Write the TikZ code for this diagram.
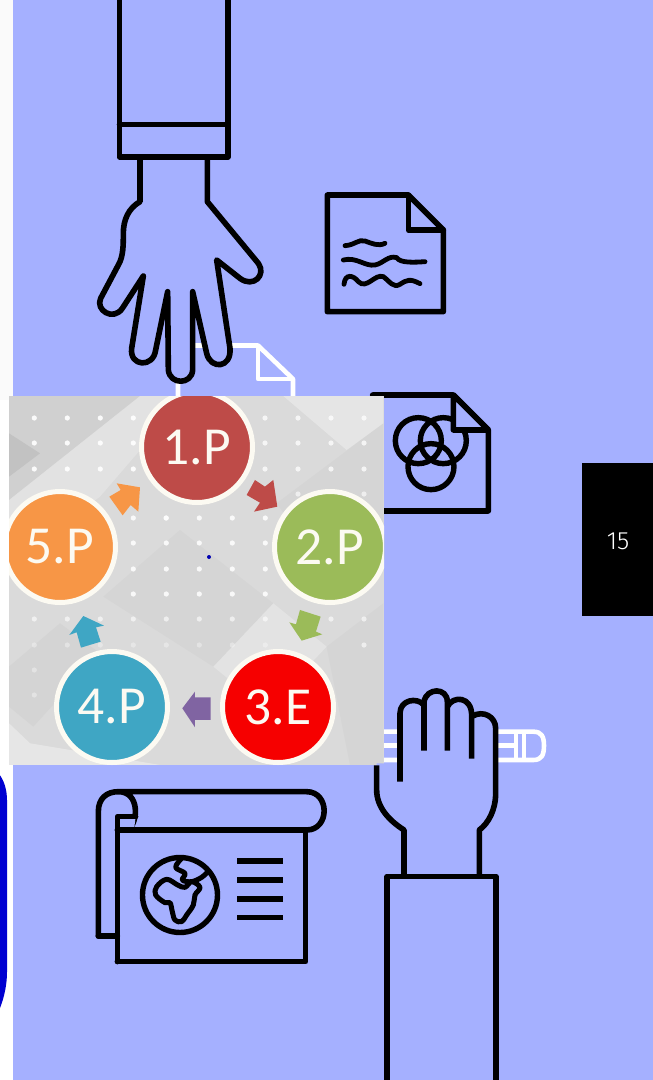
\documentclass[tikz,border=0pt]{standalone}
\usepackage{fontspec}
\setmainfont{Carlito}
\newfontfamily\numfont{Fira Sans Light}
\definecolor{lav}{HTML}{A5B0FF}
\definecolor{cRed}{HTML}{BE4B48}
\definecolor{cGreen}{HTML}{9BBB59}
\definecolor{cEx}{HTML}{F60000}
\definecolor{cBlue}{HTML}{3FA6C4}
\definecolor{cOrange}{HTML}{F79646}
\definecolor{cPurple}{HTML}{8064A2}
\definecolor{imgbg}{HTML}{DADADA}
\definecolor{ringc}{HTML}{FCFAF2}
\tikzset{
  icon/.style={draw=black,line width=5.6pt,line join=round,line cap=round},
  iconfill/.style={icon,fill=lav},
  ghost/.style={draw=white,line width=4.6pt,line join=round},
  scribble/.style={draw=black,line width=4.8pt,line cap=round},
  petal/.style={circle,draw=ringc,line width=5pt,minimum size=111pt,inner sep=0pt,text=ringc,font=\fontsize{53.5}{53.5}\selectfont},
}
\begin{document}
\begin{tikzpicture}[x=1pt,y=-1pt]
\useasboundingbox (0,0) rectangle (653,1080);
\fill[white] (0,0) rectangle (653,1080);
\fill[lav] (13,0) rectangle (653,1080);
\fill[black!2] (0,0) rectangle (13,400);
\fill[white] (0,765) rectangle (13,1080);
% blue shape at the left edge
\fill[blue!82!black] (-10,774) -- (-1,774) .. controls (4,780) and (7,790) .. (7,800) -- (7,972) .. controls (7,985) and (4,998) .. (0,1008) -- (-10,1008) -- cycle;
% black tab
\fill[black] (582,463) rectangle (653,616);
\node[font=\numfont\fontsize{25}{25}\selectfont,text=white] (pageno) at (618,541.5) {15};
% white document behind the upper hand
\draw[ghost] (178,400) -- (178,345.5) -- (258,345.5) -- (293,379) -- (293,400);
\draw[ghost] (258,345.5) -- (258,379) -- (293,379);
% upper hand
\begin{scope}[shift={(90,150)},x=0.3333pt,y=-0.3333pt]
\draw[iconfill] (150,0) -- (150,155)
  .. controls (115,175) and (100,210) .. (100,250)
  .. controls (100,285) and (100,320) .. (85,345)
  -- (32,445)
  .. controls (15,480) and (70,515) .. (97,475)
  -- (160,378) -- (125,595)
  .. controls (118,650) and (190,655) .. (197,600)
  -- (233,425) -- (235,660)
  .. controls (240,705) and (305,705) .. (308,660)
  -- (308,425) -- (350,610)
  .. controls (362,660) and (425,655) .. (420,595)
  -- (380,330) -- (450,385)
  .. controls (490,415) and (530,375) .. (505,340)
  -- (352,155) -- (352,0);
\end{scope}
\draw[iconfill] (119.5,-10) -- (119.5,157) -- (228,157) -- (228,-10);
\draw[icon] (119.5,124.5) -- (228,124.5);
% document with text
\begin{scope}[shift={(320,185)},x=0.3333pt,y=-0.3333pt]
\draw[icon] (22,30) -- (265,30) -- (370,135) -- (370,380) -- (22,380) -- cycle;
\draw[icon] (265,30) -- (265,135) -- (370,135);
\draw[scribble] (75,182) .. controls (105,180) and (115,162) .. (135,168) .. controls (155,175) and (175,185) .. (195,175);
\draw[scribble] (70,225) .. controls (110,215) and (135,245) .. (165,240) .. controls (190,235) and (205,210) .. (230,218) .. controls (240,235) and (285,232) .. (315,230);
\draw[scribble] (72,298) .. controls (75,265) and (100,270) .. (115,290) .. controls (140,315) and (165,265) .. (190,275) .. controls (210,290) and (220,310) .. (240,298) .. controls (260,285) and (270,280) .. (300,296);
\end{scope}
% document with circles
\begin{scope}[shift={(320,185)},x=0.3333pt,y=-0.3333pt]
\draw[icon] (158,630) -- (400,630) -- (505,735) -- (505,978) -- (150,978);
\draw[black,line width=5.4pt] (295,767) circle[radius=23pt] (370,767) circle[radius=23pt] (333,845) circle[radius=23pt];
\draw[iconfill] (400,630) -- (505,735) -- (400,735) -- cycle;
\end{scope}
% image
\begin{scope}
\clip (9,396) rectangle (384,765);
\fill[imgbg] (9,396) rectangle (384,765);
\begin{scope}[shift={(0,390)},x=0.3333pt,y=-0.3333pt]
\fill[black!22,opacity=.5] (27,18) -- (420,18) -- (27,330) -- cycle;
\fill[black!40,opacity=.25] (27,130) -- (120,190) -- (27,260) -- cycle;
\fill[white,opacity=.22] (27,330) -- (420,18) -- (560,18) -- (300,320) -- (27,520) -- cycle;
\fill[black!30,opacity=.12] (830,340) -- (1150,100) -- (1150,430) -- (990,560) -- cycle;
\fill[black!30,opacity=.12] (310,620) -- (540,420) -- (820,640) -- (640,830) -- cycle;
\fill[white,opacity=.25] (640,830) -- (820,640) -- (980,770) -- (800,960) -- cycle;
\fill[white,opacity=.3] (850,18) -- (1150,18) -- (1150,100) -- (1040,180) -- cycle;
\fill[black!30,opacity=.15] (27,830) -- (180,700) -- (300,790) -- (100,1010) -- (27,950) -- cycle;
\fill[white,opacity=.35] (27,1000) -- (90,1060) -- (480,1125) -- (27,1125) -- cycle;
\fill[black!30,opacity=.12] (980,770) -- (1150,640) -- (1150,1125) -- (1050,1125) -- cycle;
\end{scope}
\foreach \row/\xa/\xb/\op in {
  418/34/134/.9,443/34/134/.9,469/34/134/.9,
  518/133/265/.85,543/133/265/.85,569/133/265/.85,594/133/265/.85,
  619/34/265/.6,645/34/265/.35,670/34/34/.35,695/34/34/.35}{
  \foreach \dx in {0,...,10}{
    \pgfmathsetmacro{\px}{34.3+33*\dx}
    \pgfmathparse{(\px>=\xa-1 && \px<=\xb+1)?1:0}
    \ifnum\pgfmathresult>0
      \fill[white,opacity=\op] (\px,\row) circle[radius=2.6pt];
    \fi
  }
}
\foreach \row in {418,443,469}{\foreach \px in {265,298,331,364}{\fill[white,opacity=.75] (\px,\row) circle[radius=2.6pt];}}
\foreach \px/\row in {166/518,298/494,364/494,331/619,364/619,364/645}{\fill[white,opacity=.6] (\px,\row) circle[radius=2.6pt];}
\fill[blue!70!black] (209,557) circle[radius=2pt];
\node[petal,fill=cRed] (p1) at (197,447) {1.P};
\node[petal,fill=cGreen] (p2) at (330,547) {2.P};
\node[petal,fill=cEx] (p3) at (278,707) {3.E};
\node[petal,fill=cBlue] (p4) at (112,707) {4.P};
\node[petal,fill=cOrange] (p5) at (60,547) {5.P};
\begin{scope}[shift={(0,390)},x=0.3333pt,y=-0.3333pt]
\fill[cRed] (765,270) -- (795,290) -- (820,270) -- (832,350) -- (762,365) -- (780,338) -- (740,315) -- cycle;
\fill[cGreen] (900,660) -- (962,680) -- (948,725) -- (967,733) -- (905,752) -- (868,697) -- (888,703) -- cycle;
\fill[cPurple] (632,922) -- (632,990) -- (585,990) -- (585,1012) -- (547,955) -- (585,905) -- (585,922) -- cycle;
\fill[cBlue] (250,678) -- (312,707) -- (288,712) -- (302,755) -- (243,773) -- (230,727) -- (208,735) -- cycle;
\fill[cOrange] (420,292) -- (415,365) -- (392,345) -- (368,376) -- (328,320) -- (362,300) -- (350,280) -- cycle;
\end{scope}
\end{scope}
% white band behind the lower hand
\begin{scope}[shift={(360,680)},x=0.3333pt,y=-0.3333pt]
\draw[ghost] (72,155) -- (520,155) .. controls (545,155) and (552,170) .. (552,197) .. controls (552,225) and (545,240) .. (520,240) -- (72,240);
\draw[ghost] (72,197) -- (468,197);
\draw[ghost] (468,155) -- (468,240);
\draw[ghost] (492,155) -- (492,240);
% lower hand: fill, then lines
\fill[lav] (120,250) -- (120,100) .. controls (120,60) and (170,50) .. (192,70)
  .. controls (200,25) and (262,25) .. (265,70)
  .. controls (295,40) and (335,60) .. (340,105)
  .. controls (375,90) and (407,110) .. (407,145)
  -- (407,340) .. controls (407,390) and (385,430) .. (358,450) -- (358,590) -- (132,590) -- (132,450)
  .. controls (85,420) and (50,380) .. (50,330) -- (50,250) -- cycle;
\draw[icon,line cap=butt] (120,305) -- (120,100) .. controls (120,60) and (170,50) .. (192,75);
\draw[icon,line cap=butt] (192,212) -- (192,65) .. controls (200,22) and (262,22) .. (262,65) -- (262,212);
\draw[icon,line cap=butt] (262,80) .. controls (280,45) and (335,50) .. (335,105) -- (335,236);
\draw[icon,line cap=butt] (338,108) .. controls (370,90) and (407,110) .. (407,145) -- (407,340) .. controls (407,390) and (385,430) .. (358,450) -- (358,590);
\draw[icon,line cap=butt] (132,590) -- (132,450) .. controls (85,420) and (50,380) .. (50,330) -- (50,256);
\end{scope}
\draw[iconfill] (387,1090) -- (387,876.5) -- (496,876.5) -- (496,1090);
% map scroll
\begin{scope}[shift={(85,780)},x=0.3333pt,y=-0.3333pt]
\draw[iconfill] (40,468) -- (40,95) .. controls (40,55) and (65,35) .. (100,35) -- (665,35) .. controls (735,35) and (735,150) .. (665,150) -- (130,150) .. controls (160,125) and (165,35) .. (100,35);
\draw[iconfill] (97,545) -- (97,110) -- (152,110);
\draw[icon] (97,150) -- (662,150) -- (662,545) -- (97,545);
\draw[icon] (40,468) -- (97,468);
\draw[black,line width=5.4pt] (285,345) circle[radius=37.5pt];
\draw[black,line width=5pt,line join=round] plot[smooth cycle,tension=.6] coordinates {(320,305) (300,322) (278,315) (245,298) (215,320) (212,345) (240,368) (255,368) (262,395) (270,420) (290,425) (305,405) (325,375) (330,345) (345,322)};
\draw[black,line width=5pt,line join=round] plot[smooth,tension=.6] coordinates {(290,235) (272,262) (300,280) (292,300) (320,305) (350,292) (372,272)};
\foreach \ly in {243,300,357,413}{\fill[black] (457,\ly-8.5) rectangle (594,\ly+8.5);}
\end{scope}
\end{tikzpicture}
\end{document}
